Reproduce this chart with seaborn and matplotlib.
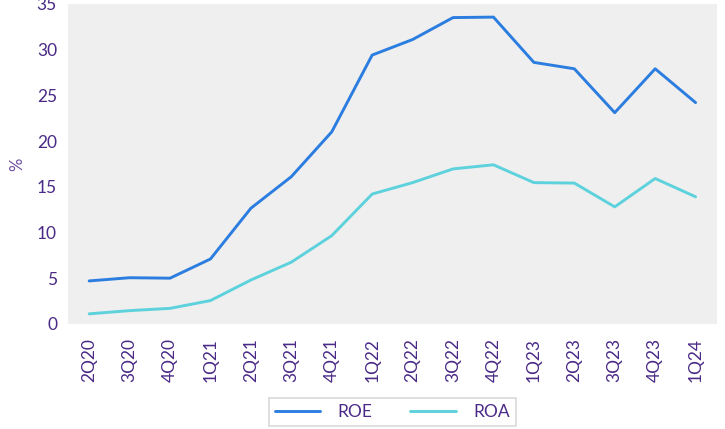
import matplotlib.pyplot as plt
import pandas as pd
import seaborn as sns

quarters = ["2Q20", "3Q20", "4Q20", "1Q21", "2Q21", "3Q21", "4Q21", "1Q22",
            "2Q22", "3Q22", "4Q22", "1Q23", "2Q23", "3Q23", "4Q23", "1Q24"]
roe = [4.7, 5.05, 5.0, 7.1, 12.65, 16.1, 21.0, 29.4,
       31.1, 33.5, 33.55, 28.6, 27.9, 23.1, 27.9, 24.2]
roa = [1.1, 1.45, 1.7, 2.55, 4.8, 6.75, 9.65, 14.2,
       15.45, 16.95, 17.4, 15.45, 15.4, 12.8, 15.9, 13.9]

text_color = "#4a2a86"
colors = {"ROE": "#2b7de0", "ROA": "#5ed2dc"}

df = pd.DataFrame({
    "quarter": quarters * 2,
    "value": roe + roa,
    "metric": ["ROE"] * len(roe) + ["ROA"] * len(roa),
})
df["pos"] = list(range(len(quarters))) * 2

sns.set_theme(style="white")
plt.rcParams["font.family"] = ["Lato", "DejaVu Sans"]

fig = plt.figure(figsize=(7.25, 4.29), dpi=100)
ax = fig.add_axes([0.094, 0.245, 0.895, 0.746])
ax.set_facecolor("#efefef")

sns.lineplot(data=df, x="pos", y="value", hue="metric", palette=colors,
             linewidth=2.1, ax=ax, legend=False)

ax.set_xlim(-0.52, len(quarters) - 0.47)
ax.set_ylim(0, 35)
ax.set_yticks(range(0, 36, 5))
ax.set_xticks(range(len(quarters)))
ax.set_xticklabels(quarters, rotation=90)
ax.tick_params(axis="both", colors=text_color, labelsize=12.5, length=3, width=1,
               direction="out")
ax.tick_params(axis="y", pad=5)
ax.tick_params(axis="x", pad=7)
for spine in ax.spines.values():
    spine.set_visible(False)
ax.set_xlabel("")
ax.set_ylabel("%", color="#6d4ca0", fontsize=12, labelpad=8)

handles = [plt.Line2D([], [], color=colors[m], linewidth=2.1) for m in ["ROE", "ROA"]]
leg = fig.legend(handles, ["ROE", "ROA"], loc="upper center",
                 bbox_to_anchor=(0.541, 0.073), ncol=2, frameon=True,
                 fancybox=False, edgecolor="#d0d0d0", fontsize=12.5,
                 handlelength=2.6, handletextpad=1.0, columnspacing=2.2,
                 borderpad=0.35, borderaxespad=0)
leg.get_frame().set_linewidth(1.2)
for t in leg.get_texts():
    t.set_color(text_color)

fig.savefig("out.png", dpi=100, facecolor="white")
